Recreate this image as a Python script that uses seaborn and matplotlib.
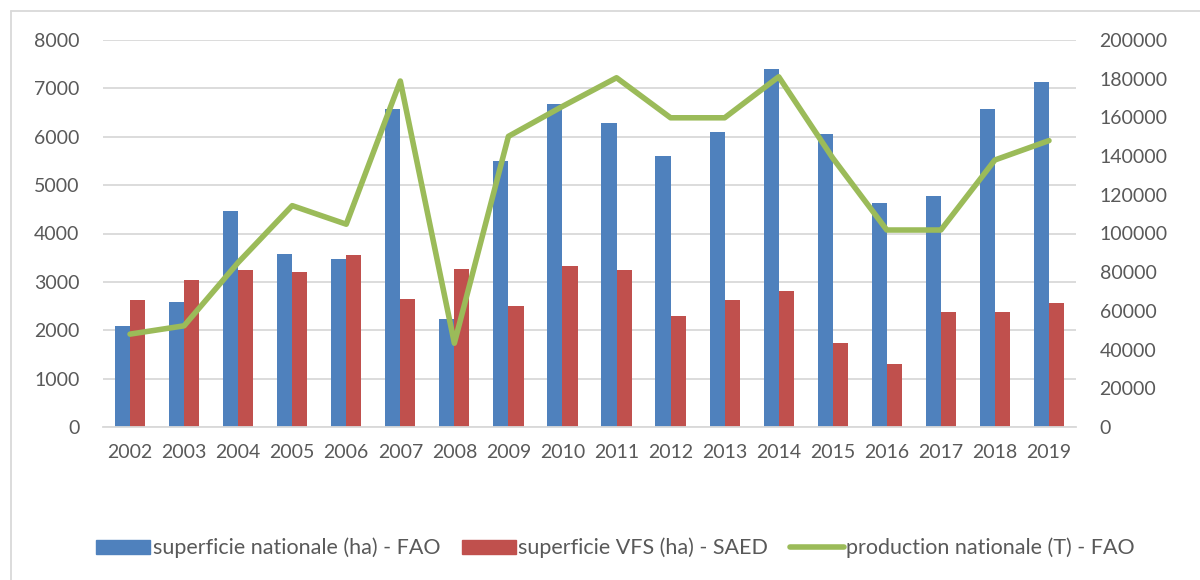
import matplotlib
matplotlib.use("Agg")
import matplotlib.pyplot as plt
from matplotlib.lines import Line2D
from matplotlib.patches import Patch
import seaborn as sns
import pandas as pd
import numpy as np

years = [str(y) for y in range(2002, 2020)]
sup_fao = [2094, 2583, 4465, 3569, 3473, 6581, 2226, 5492, 6670,
           6291, 5602, 6091, 7400, 6064, 4637, 4769, 6574, 7138]
sup_saed = [2625, 3038, 3238, 3204, 3562, 2646, 3259, 2508, 3335,
            3238, 2288, 2632, 2811, 1736, 1302, 2370, 2370, 2556]
prod_fao = [48000, 52300, 85000, 114400, 104800, 178800, 43300, 150200, 165700,
            180500, 159800, 159800, 181000, 139000, 101800, 101800, 138000, 148000]

lab_fao = "superficie nationale (ha) - FAO"
lab_saed = "superficie VFS (ha) - SAED"
lab_prod = "production nationale (T) - FAO"

blue = "#4F81BD"
red = "#C0504D"
green = "#9BBB59"
grid = "#D9D9D9"
txt = "#595959"

bars = pd.DataFrame({
    "year": years * 2,
    "value": sup_fao + sup_saed,
    "serie": [lab_fao] * len(years) + [lab_saed] * len(years),
})

sns.set_style("white")
plt.rcParams["font.family"] = ["Lato", "DejaVu Sans"]

fig = plt.figure(figsize=(12, 5.8), dpi=100)
ax = fig.add_axes([103 / 1200, 1 - 427 / 580, 973 / 1200, 387 / 580])

sns.barplot(data=bars, x="year", y="value", hue="serie",
            palette=[blue, red], saturation=1, width=0.56, gap=0, ax=ax,
            edgecolor="none", legend=False)

ax.set_ylim(0, 8000)
ax.set_yticks(range(0, 8001, 1000))
ax.set_xlim(-0.5, len(years) - 0.5)
ax.yaxis.grid(True, color=grid, linewidth=1.3)
ax.set_axisbelow(True)
for s in ["top", "right", "left"]:
    ax.spines[s].set_visible(False)
ax.spines["bottom"].set_color(grid)
ax.spines["bottom"].set_linewidth(1.3)
ax.set_xlabel("")
ax.set_ylabel("")
ax.tick_params(axis="y", length=0, pad=17, labelsize=14, labelcolor=txt)
ax.tick_params(axis="x", length=0, pad=12, labelsize=14, labelcolor=txt)

ax2 = ax.twinx()
sns.lineplot(x=np.arange(len(years)), y=prod_fao, color=green, linewidth=4,
             ax=ax2, legend=False)
ax2.set_ylim(0, 200000)
ax2.set_yticks(range(0, 200001, 20000))
ax2.set_xlim(-0.5, len(years) - 0.5)
for s in ax2.spines.values():
    s.set_visible(False)
ax2.tick_params(axis="y", length=0, pad=17, labelsize=14, labelcolor=txt)
ax2.grid(False)

handles = [Patch(color=blue, label=lab_fao),
           Patch(color=red, label=lab_saed),
           Line2D([], [], color=green, linewidth=4, label=lab_prod)]
fig.legend(handles=handles, loc="center", bbox_to_anchor=(0.513, 1 - 548 / 580),
           ncol=3, frameon=False, fontsize=15.5, labelcolor=txt,
           handlelength=2.5, handleheight=0.6, handletextpad=0.12,
           columnspacing=1.0)

# chart border
fig.add_artist(Line2D([11 / 1200, 11 / 1200], [0, 1 - 11 / 580],
                      color=grid, linewidth=1.3, transform=fig.transFigure))
fig.add_artist(Line2D([11 / 1200, 1], [1 - 11 / 580, 1 - 11 / 580],
                      color=grid, linewidth=1.3, transform=fig.transFigure))

fig.savefig("out.png", dpi=100, facecolor="white")
